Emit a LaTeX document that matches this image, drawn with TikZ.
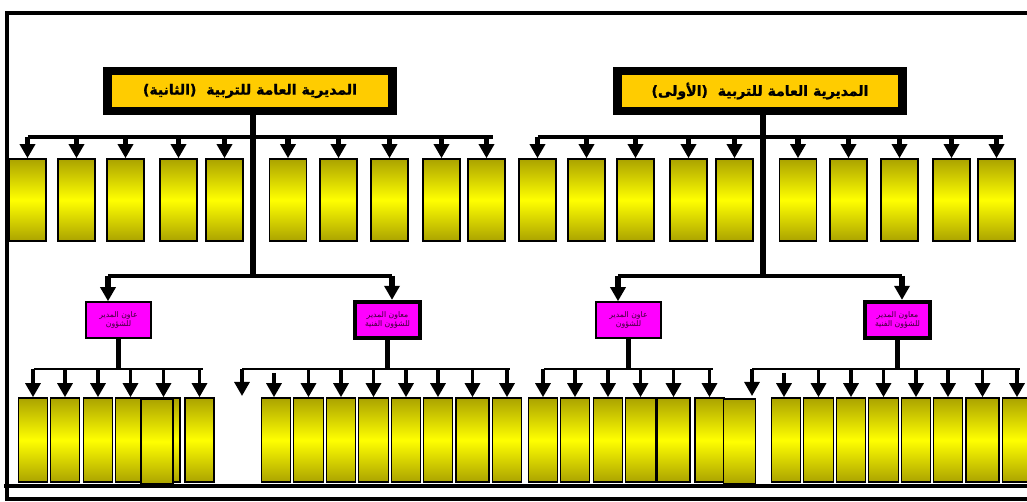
\documentclass[tikz,border=0pt]{standalone}
\usepackage{fontspec}
\usetikzlibrary{arrows.meta}
\TeXXeTstate=1
\newfontfamily\arabicfont[Script=Arabic]{DejaVu Sans}
\newfontfamily\arabicbold[Script=Arabic, FakeBold=1.2]{DejaVu Sans Bold}
\definecolor{gold}{HTML}{FFCC00}
\definecolor{olivebox}{HTML}{ABA300}
\definecolor{deputyfill}{HTML}{FF00FF}
\definecolor{deputyink}{HTML}{3A0033}
\tikzset{%
	directorate/.style	= {draw, fill=gold, line width=4.8pt, minimum width=5.7cm, minimum height=0.79cm, inner sep=0pt, font=\arabicbold\fontsize{8}{10}\selectfont},
	unitbox/.style		= {draw, line width=0.9pt, top color=olivebox, bottom color=olivebox, middle color=yellow, minimum width=0.74cm, minimum height=1.64cm, inner sep=0pt},
	lowbox/.style		= {unitbox, minimum width=0.58cm, minimum height=1.68cm},
	deputy/.style		= {draw, fill=deputyfill, minimum width=1.3cm, minimum height=0.72cm, inner sep=0pt, align=center, text=deputyink, font=\arabicfont\fontsize{4.4}{5.2}\selectfont}, % Deputy director
	bus/.style			= {line width=2.7pt},
	thinbus/.style		= {line width=1.5pt},
	stem/.style			= {line width=3pt},
	thinstem/.style		= {line width=1.9pt},
	frame/.style		= {line width=2pt}
}
\newcommand{\rtltext}[1]{\beginR #1\endR}

\begin{document}
\begin{tikzpicture}[x=0.02cm, y=-0.02cm, >={Triangle[width=8.5pt, length=8pt]}]
	\useasboundingbox (0,0) rectangle (1027,502);
	\draw[frame] (7,13) rectangle (1040,499);
	\draw[frame] (4,486) -- (1040,486);

	% Directorates
	\node[directorate] (Ldir) at (250,91) {\rtltext{المديرية العامة للتربية\ \ (الثانية)}};
	\node[directorate] (Rdir) at (760,91) {\rtltext{المديرية العامة للتربية\ \ (الأولى)}};

	\foreach \q/\dx/\ex in {L/0/157, R/510/229.5} {
		% Bus points
		\coordinate (\q top1) at (28+\dx,137);
		\coordinate (\q top2) at (493+\dx,137);
		\coordinate (\q mid) at (253+\dx,276);
		\coordinate (\q midA) at (108+\dx,276);
		\coordinate (\q midB) at (392+\dx,276);
		\coordinate (\q lowA) at (34+\dx,369);
		\coordinate (\q lowB) at (203+\dx,369);
		\coordinate (\q lowC) at (242+\dx,369);
		\coordinate (\q lowD) at (510+\dx,369);
		\coordinate (\q gap) at (274+\dx,373);
		\coordinate (\q free) at (242+\dx,396);

		% Top row
		\draw[stem] (\q mid |- \q dir.south) -- (\q mid);
		\draw[bus] (\q top1) -- (\q top2);
		\foreach \x [count=\i] in {27.5, 76.5, 125.5, 178.5, 224.5, 288, 338.5, 389.5, 441.5, 486.5} {
			\node[unitbox] (\q t\i) at (\x+\dx,200) {};
			\draw[stem,->] (\q t\i.north |- \q top1) -- (\q t\i.north);
		}

		% Deputies
		\node[deputy, line width=0.9pt] (\q dep1) at (118.5+\dx,320) {\rtltext{عاون المدير}\\\rtltext{للشؤون}};
		\node[deputy, line width=2.4pt] (\q dep2) at (387.5+\dx,320) {\rtltext{معاون المدير}\\\rtltext{للشؤون الفنية}};
		\draw[bus] (\q midA) -- (\q midB);
		\draw[stem,->] (\q midA) -- (\q midA |- \q dep1.north);
		\draw[stem,->] (\q midB) -- (\q midB |- \q dep2.north);
		\draw[stem] (\q dep1.south) -- (\q dep1.south |- \q lowA);
		\draw[stem] (\q dep2.south) -- (\q dep2.south |- \q lowC);

		% Bottom row, first group
		\draw[thinbus] (\q lowA) -- (\q lowB);
		\foreach \x/\w [count=\i] in {33/0.58, 65/0.58, 98/0.58, 130.5/0.6, 163.5/0.66, 199.5/0.58} {
			\node[lowbox, minimum width=\w cm] (\q a\i) at (\x+\dx,440) {};
			\draw[thinstem,->] (\q a\i.north |- \q lowA) -- (\q a\i.north);
		}
		\node[lowbox, minimum width=0.64cm, minimum height=1.7cm] (\q extra) at (\ex+\dx,441.5) {};

		% Bottom row, second group
		\draw[thinbus] (\q lowC) -- (\q lowD);
		\foreach \x/\w [count=\i] in {276/0.58, 308.5/0.6, 341/0.58, 373.5/0.6, 406/0.58, 438/0.58, 472.5/0.66, 507/0.58} {
			\node[lowbox, minimum width=\w cm] (\q b\i) at (\x+\dx,440) {};
		}
		\draw[thinstem,->] (\q lowC) -- (\q free);
		\draw[thinstem,->] (\q gap) -- (\q gap |- \q b1.north);
		\foreach \i in {2,...,8} {
			\draw[thinstem,->] (\q b\i.north |- \q lowC) -- (\q b\i.north);
		}
	}
\end{tikzpicture}
\end{document}
